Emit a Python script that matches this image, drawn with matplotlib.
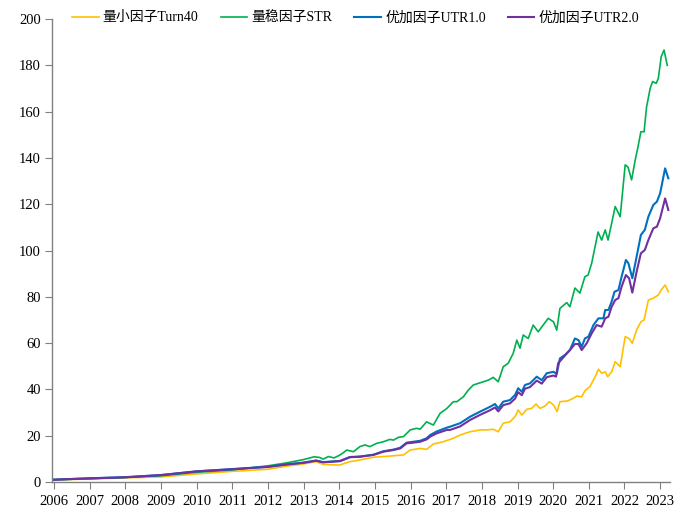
import matplotlib.pyplot as plt

plt.rcParams['font.family'] = ['Liberation Serif', 'Noto Sans CJK SC']
plt.rcParams['axes.unicode_minus'] = False

# 数据（从图上读取，横轴为年份小数）
labels = ["量小因子Turn40", "量稳因子STR", "优加因子UTR1.0", "优加因子UTR2.0"]
colors = ["#FFC000", "#00B050", "#0070C0", "#7030A0"]

turn40_t = [2006.0, 2007.0, 2008.0, 2009.0, 2010.0, 2011.0, 2012.0, 2012.5, 2013.0, 2013.35, 2013.55, 2014.0,
            2014.3, 2014.58, 2014.96, 2015.42, 2015.8, 2015.99, 2016.27, 2016.45, 2016.64, 2016.92, 2017.2,
            2017.39, 2017.67, 2017.95, 2018.14, 2018.32, 2018.46, 2018.6, 2018.79, 2018.93, 2019.02, 2019.12,
            2019.26, 2019.4, 2019.52, 2019.63, 2019.77, 2019.89, 2020.01, 2020.11, 2020.19, 2020.4, 2020.57,
            2020.66, 2020.8, 2020.89, 2021.03, 2021.18, 2021.27, 2021.36, 2021.46, 2021.53, 2021.64, 2021.74,
            2021.88, 2022.02, 2022.13, 2022.22, 2022.34, 2022.46, 2022.55, 2022.67, 2022.81, 2022.95, 2023.04,
            2023.14, 2023.23]
turn40_v = [0.9, 1.3, 1.8, 2.2, 3.5, 4.6, 5.5, 6.8, 7.8, 8.8, 7.6, 7.3,
            8.8, 9.5, 10.7, 11.2, 11.7, 13.8, 14.5, 14.1, 16.4, 17.4, 18.9,
            20.3, 21.7, 22.5, 22.5, 22.8, 21.7, 25.4, 26.0, 28.2, 31.1, 28.9,
            31.4, 31.8, 33.7, 31.8, 32.8, 34.7, 33.3, 30.4, 34.7, 35.0, 36.2,
            37.1, 36.8, 39.4, 41.2, 45.5, 48.7, 47.0, 47.6, 45.5, 47.6, 52.0,
            49.8, 62.8, 62.0, 59.9, 65.7, 69.2, 70.0, 78.6, 79.4, 80.8, 83.2,
            85.1, 82.2]

str_t = [2006.0, 2007.0, 2008.0, 2009.0, 2010.0, 2011.0, 2012.0, 2012.5, 2013.0, 2013.3, 2013.45, 2013.55,
         2013.7, 2013.85, 2014.0, 2014.1, 2014.21, 2014.4, 2014.58, 2014.72, 2014.86, 2015.05, 2015.24,
         2015.42, 2015.52, 2015.66, 2015.8, 2015.99, 2016.17, 2016.27, 2016.45, 2016.64, 2016.83, 2017.02,
         2017.2, 2017.3, 2017.48, 2017.62, 2017.76, 2017.9, 2018.04, 2018.18, 2018.32, 2018.46, 2018.6,
         2018.74, 2018.88, 2018.98, 2019.07, 2019.16, 2019.3, 2019.44, 2019.58, 2019.72, 2019.86, 2020.01,
         2020.1, 2020.19, 2020.38, 2020.47, 2020.61, 2020.75, 2020.89, 2020.98, 2021.08, 2021.26, 2021.36,
         2021.46, 2021.54, 2021.74, 2021.88, 2022.02, 2022.1, 2022.2, 2022.3, 2022.38, 2022.46, 2022.55,
         2022.62, 2022.72, 2022.79, 2022.89, 2022.95, 2023.03, 2023.11, 2023.2]
str_v = [1.0, 1.4, 2.0, 2.7, 4.2, 5.2, 7.0, 8.2, 9.7, 10.9, 10.6, 9.9,
         11.0, 10.4, 11.5, 12.5, 13.8, 13.1, 15.3, 16.0, 15.3, 16.7, 17.4,
         18.4, 18.1, 19.3, 19.6, 22.5, 23.2, 22.8, 26.0, 24.6, 29.7, 31.8,
         34.7, 34.7, 36.8, 39.7, 41.9, 42.6, 43.3, 44.0, 45.2, 43.3, 49.8,
         51.3, 55.6, 61.3, 57.8, 63.5, 62.0, 67.8, 64.9, 67.8, 70.7, 69.2,
         65.6, 75.0, 77.5, 75.7, 83.8, 81.6, 88.7, 89.4, 94.5, 108.0, 104.5,
         108.9, 104.5, 119.0, 114.6, 137.0, 136.0, 130.5, 139.0, 144.8, 151.3, 151.3,
         162.0, 170.0, 173.0, 172.2, 174.4, 183.7, 186.6, 180.0]

utr1_t = [2006.0, 2007.0, 2008.0, 2009.0, 2010.0, 2011.0, 2012.0, 2012.5, 2013.0, 2013.35, 2013.55, 2014.02,
          2014.3, 2014.58, 2014.96, 2015.24, 2015.52, 2015.71, 2015.89, 2016.08, 2016.27, 2016.45, 2016.55,
          2016.73, 2017.02, 2017.11, 2017.39, 2017.67, 2017.95, 2018.23, 2018.37, 2018.46, 2018.6, 2018.79,
          2018.93, 2019.02, 2019.12, 2019.21, 2019.35, 2019.54, 2019.68, 2019.82, 2020.01, 2020.1, 2020.19,
          2020.33, 2020.47, 2020.61, 2020.71, 2020.8, 2020.89, 2020.99, 2021.13, 2021.27, 2021.41, 2021.46,
          2021.55, 2021.64, 2021.72, 2021.83, 2021.92, 2022.04, 2022.11, 2022.22, 2022.34, 2022.46, 2022.57,
          2022.67, 2022.81, 2022.91, 2023.0, 2023.14, 2023.23]
utr1_v = [1.0, 1.6, 2.1, 3.0, 4.6, 5.6, 6.6, 7.6, 8.4, 9.3, 8.6, 9.1,
          10.8, 11.0, 11.8, 13.3, 14.0, 14.8, 17.0, 17.4, 17.8, 18.9, 20.3,
          21.8, 23.5, 23.9, 25.4, 28.2, 30.4, 32.5, 33.7, 31.8, 34.7, 35.4,
          37.6, 40.5, 39.0, 41.9, 42.6, 45.5, 44.0, 47.0, 47.6, 46.7, 53.4,
          54.9, 57.0, 62.0, 61.3, 58.4, 62.0, 62.8, 67.8, 70.7, 70.7, 74.3,
          74.3, 77.9, 82.2, 82.9, 88.7, 95.9, 94.5, 88.0, 97.3, 106.7, 108.9,
          114.6, 119.7, 121.1, 124.7, 135.5, 131.2]

utr2_t = [2006.0, 2007.0, 2008.0, 2009.0, 2010.0, 2011.0, 2012.0, 2012.5, 2013.0, 2013.35, 2013.55, 2014.02,
          2014.3, 2014.58, 2014.96, 2015.24, 2015.52, 2015.71, 2015.89, 2016.08, 2016.27, 2016.45, 2016.55,
          2016.73, 2017.02, 2017.11, 2017.39, 2017.67, 2017.95, 2018.23, 2018.37, 2018.46, 2018.6, 2018.79,
          2018.93, 2019.02, 2019.12, 2019.21, 2019.35, 2019.54, 2019.68, 2019.82, 2020.01, 2020.08, 2020.14,
          2020.29, 2020.47, 2020.61, 2020.71, 2020.8, 2020.94, 2021.08, 2021.22, 2021.36, 2021.46, 2021.55,
          2021.64, 2021.74, 2021.83, 2021.92, 2022.04, 2022.13, 2022.22, 2022.34, 2022.46, 2022.57, 2022.67,
          2022.81, 2022.91, 2023.0, 2023.14, 2023.23]
utr2_v = [1.0, 1.6, 2.0, 3.0, 4.6, 5.5, 6.5, 7.5, 8.3, 9.2, 8.5, 9.0,
          10.7, 10.9, 11.7, 13.1, 13.8, 14.5, 16.7, 17.0, 17.4, 18.4, 19.6,
          21.0, 22.5, 22.5, 24.0, 26.8, 29.0, 31.0, 32.2, 30.5, 33.2, 34.0,
          36.0, 38.8, 37.5, 40.3, 41.0, 43.8, 42.5, 45.3, 46.0, 45.5, 51.3,
          53.9, 57.0, 59.6, 59.6, 57.0, 59.9, 64.2, 67.8, 67.1, 70.7, 71.4,
          75.7, 78.6, 79.4, 84.4, 89.4, 88.0, 81.8, 90.8, 98.8, 100.2, 104.5,
          109.6, 110.3, 113.9, 122.5, 117.5]

years = list(range(2006, 2024))

fig = plt.figure(figsize=(6.81, 5.07), dpi=100)
ax = fig.add_axes([0.0764, 0.0493, 0.9076, 0.9132])

series = [(turn40_t, turn40_v), (str_t, str_v), (utr1_t, utr1_v), (utr2_t, utr2_v)]
widths = [1.2, 1.2, 1.5, 1.5]
for (t, v), lab, c, w in zip(series, labels, colors, widths):
    ax.plot(t, v, color=c, lw=w, label=lab)

ax.set_xlim(2005.944, 2023.28)
ax.set_ylim(0, 200)
ax.set_xticks(years)
ax.set_xticklabels([str(y) for y in years])
ax.set_yticks(range(0, 201, 20))

for s in ["top", "right"]:
    ax.spines[s].set_visible(False)
for s in ["left", "bottom"]:
    ax.spines[s].set_color("#808080")
    ax.spines[s].set_linewidth(1.0)
ax.tick_params(axis="both", direction="out", length=5, color="#808080", labelsize=10.5, pad=3)
ax.tick_params(axis="x", pad=4)

ax.legend(loc="center left", bbox_to_anchor=(0.106, 0.965), bbox_transform=fig.transFigure,
          ncol=4, frameon=False, fontsize=10, handlelength=1.9, handletextpad=0.3,
          columnspacing=1.6, borderpad=0, borderaxespad=0)

fig.savefig("out.png", dpi=100)
